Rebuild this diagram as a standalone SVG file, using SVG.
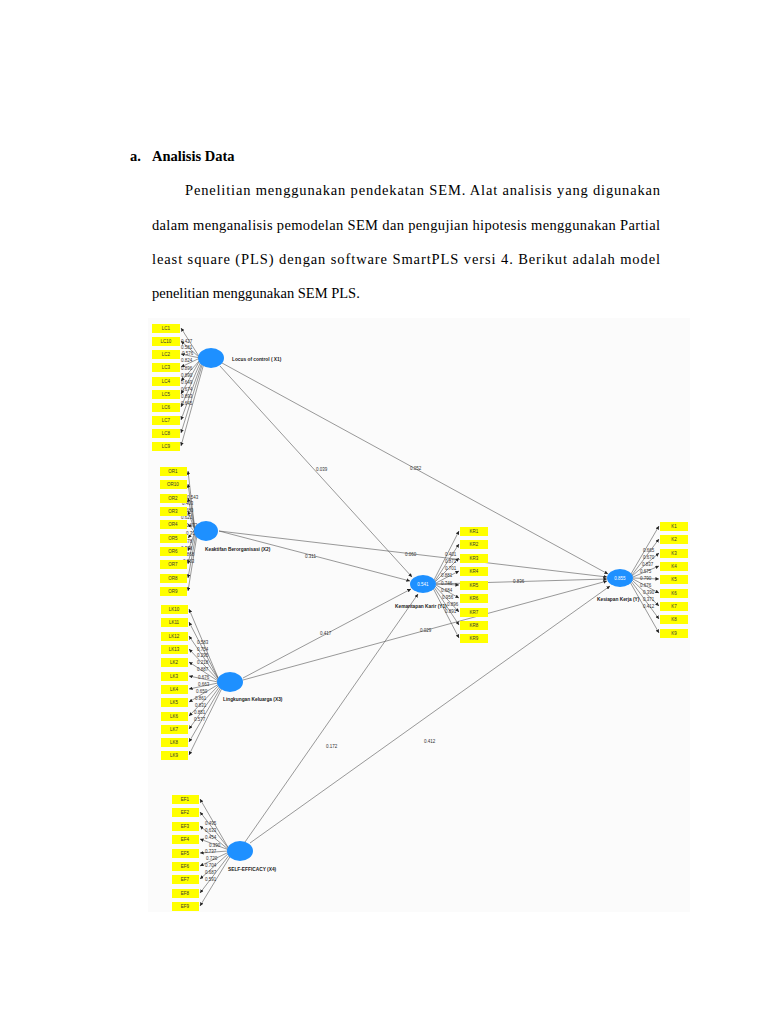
<svg xmlns="http://www.w3.org/2000/svg" width="768" height="1024" viewBox="0 0 768 1024">
<style>
.p{font-family:"Liberation Serif",serif;font-size:14.5px;fill:#000}
.h{font-family:"Liberation Serif",serif;font-size:14.5px;font-weight:bold}
.ind rect{fill:#ffff00}
.t{font-family:"Liberation Sans",sans-serif;font-size:4.5px;fill:#333}
.lab{font-family:"Liberation Sans",sans-serif;font-size:4.8px;font-weight:bold;fill:#222}
.lv{fill:#1e90ff}
.c line{stroke:#555;stroke-width:0.6;marker-end:url(#a)}
.w{font-family:"Liberation Sans",sans-serif;font-size:4.5px;fill:#fff;text-anchor:middle}
</style>
<defs><marker id="a" viewBox="0 0 10 10" refX="10" refY="5" markerWidth="6" markerHeight="6" orient="auto"><path d="M0,0L10,5L0,10z" fill="#222"/></marker></defs>
<rect width="768" height="1024" fill="#fff"/>
<text class="h" x="130" y="161">a.</text><text class="h" x="152" y="161">Analisis Data</text>
<text class="p" x="185" y="195" textLength="475" lengthAdjust="spacing">Penelitian menggunakan pendekatan SEM. Alat analisis yang digunakan</text>
<text class="p" x="152" y="230" textLength="508" lengthAdjust="spacing">dalam menganalisis pemodelan SEM dan pengujian hipotesis menggunakan Partial</text>
<text class="p" x="152" y="264" textLength="508" lengthAdjust="spacing">least square (PLS) dengan software SmartPLS versi 4. Berikut adalah model</text>
<text class="p" x="152" y="298">penelitian menggunakan SEM PLS.</text>
<rect x="148" y="318" width="542" height="594" fill="#fbfbfb"/>
<g id="connectors" class="c">
<line x1="220" y1="366" x2="412" y2="577"/><line x1="222" y1="363" x2="608" y2="574"/>
<line x1="219" y1="531" x2="410" y2="581"/><line x1="219" y1="531" x2="607" y2="577"/>
<line x1="243" y1="678" x2="411" y2="589"/><line x1="243" y1="680" x2="607" y2="581"/>
<line x1="245" y1="842" x2="418" y2="594"/><line x1="250" y1="843" x2="610" y2="586"/>
<line x1="436" y1="584" x2="607" y2="579"/>
<g id="lc-load"><line x1="200" y1="358" x2="181" y2="328"/><line x1="200" y1="358" x2="181" y2="341"/><line x1="200" y1="358" x2="181" y2="354"/><line x1="200" y1="358" x2="181" y2="367"/><line x1="200" y1="360" x2="181" y2="381"/><line x1="200" y1="360" x2="181" y2="394"/><line x1="201" y1="361" x2="181" y2="407"/><line x1="202" y1="362" x2="181" y2="420"/><line x1="203" y1="362" x2="181" y2="433"/><line x1="204" y1="363" x2="181" y2="446"/></g>
<g><line x1="195" y1="531" x2="188" y2="471"/><line x1="195" y1="531" x2="188" y2="484"/><line x1="195" y1="531" x2="188" y2="498"/><line x1="195" y1="531" x2="188" y2="511"/><line x1="194" y1="531" x2="188" y2="524"/><line x1="194" y1="531" x2="188" y2="538"/><line x1="195" y1="532" x2="188" y2="551"/><line x1="195" y1="533" x2="188" y2="564"/><line x1="196" y1="534" x2="188" y2="578"/><line x1="197" y1="535" x2="188" y2="591"/></g>
<g><line x1="219" y1="680" x2="189" y2="609"/><line x1="219" y1="680" x2="189" y2="622"/><line x1="219" y1="680" x2="189" y2="636"/><line x1="219" y1="681" x2="189" y2="649"/><line x1="218" y1="681" x2="189" y2="662"/><line x1="218" y1="682" x2="189" y2="676"/><line x1="218" y1="683" x2="189" y2="689"/><line x1="219" y1="684" x2="189" y2="702"/><line x1="219" y1="685" x2="189" y2="716"/><line x1="220" y1="686" x2="189" y2="729"/><line x1="221" y1="687" x2="189" y2="742"/><line x1="222" y1="688" x2="189" y2="755"/></g>
<g><line x1="229" y1="849" x2="200" y2="799"/><line x1="229" y1="849" x2="200" y2="812"/><line x1="229" y1="850" x2="200" y2="826"/><line x1="229" y1="850" x2="200" y2="839"/><line x1="228" y1="851" x2="200" y2="853"/><line x1="229" y1="852" x2="200" y2="866"/><line x1="229" y1="853" x2="200" y2="879"/><line x1="230" y1="854" x2="200" y2="893"/><line x1="231" y1="855" x2="200" y2="906"/></g>
<g><line x1="434" y1="580" x2="459" y2="531"/><line x1="435" y1="581" x2="459" y2="544"/><line x1="435" y1="582" x2="459" y2="558"/><line x1="436" y1="583" x2="459" y2="571"/><line x1="436" y1="584" x2="459" y2="585"/><line x1="436" y1="585" x2="459" y2="598"/><line x1="435" y1="586" x2="459" y2="612"/><line x1="434" y1="587" x2="459" y2="625"/><line x1="433" y1="588" x2="459" y2="638"/></g>
<g><line x1="631" y1="574" x2="659" y2="526"/><line x1="632" y1="575" x2="659" y2="539"/><line x1="632" y1="576" x2="659" y2="553"/><line x1="633" y1="577" x2="659" y2="566"/><line x1="633" y1="578" x2="659" y2="579"/><line x1="633" y1="579" x2="659" y2="593"/><line x1="632" y1="580" x2="659" y2="606"/><line x1="631" y1="581" x2="659" y2="619"/><line x1="630" y1="582" x2="659" y2="633"/></g>
</g>
<g class="t">
<text x="316" y="471">0.039</text><text x="410" y="470">0.052</text><text x="305" y="558">0.311</text><text x="405" y="556">0.060</text><text x="320" y="635">0.417</text><text x="420" y="632">0.029</text><text x="326" y="748">0.172</text><text x="424" y="743">0.412</text><text x="513" y="583">0.836</text>
<text x="181" y="343">0.427</text><text x="181" y="349">0.581</text><text x="182" y="355">0.576</text><text x="181" y="362">0.824</text><text x="181" y="370">0.896</text><text x="181" y="377">0.890</text><text x="181" y="384">0.649</text><text x="181" y="391">0.674</text><text x="181" y="398">0.893</text><text x="181" y="405">0.645</text>
<text x="187" y="499">0.543</text><text x="182" y="505">0.403</text><text x="182" y="512">0.680</text><text x="181" y="519">0.621</text><text x="186" y="527">0.673</text><text x="186" y="535">0.718</text><text x="181" y="543">0.678</text><text x="181" y="550">0.378</text><text x="183" y="556">0.868</text><text x="183" y="563">0.863</text>
<text x="197" y="644">0.583</text><text x="197" y="651">0.754</text><text x="197" y="657">0.295</text><text x="197" y="664">0.218</text><text x="197" y="671">0.887</text><text x="198" y="679">0.676</text><text x="198" y="686">0.663</text><text x="196" y="693">0.650</text><text x="195" y="700">0.861</text><text x="195" y="707">0.831</text><text x="194" y="714">0.851</text><text x="194" y="721">0.577</text>
<text x="205" y="825">0.495</text><text x="205" y="832">0.633</text><text x="205" y="839">0.454</text><text x="209" y="847">0.390</text><text x="205" y="853">0.737</text><text x="206" y="860">0.720</text><text x="205" y="867">0.704</text><text x="205" y="874">0.687</text><text x="205" y="881">0.591</text>
<text x="445" y="556">0.401</text><text x="445" y="563">0.871</text><text x="445" y="570">0.701</text><text x="441" y="577">0.881</text><text x="441" y="585">0.746</text><text x="441" y="592">0.684</text><text x="442" y="599">0.956</text><text x="447" y="606">0.896</text><text x="445" y="613">0.891</text>
<text x="643" y="552">0.665</text><text x="643" y="559">0.670</text><text x="642" y="566">0.837</text><text x="640" y="573">0.675</text><text x="640" y="580">0.790</text><text x="640" y="587">0.676</text><text x="643" y="594">0.390</text><text x="643" y="601">0.371</text><text x="643" y="608">0.412</text>
</g>
<g id="X1"><ellipse class="lv" cx="211" cy="358" rx="13" ry="10"/><text class="lab" x="232" y="361">Locus of control ( X1)</text></g>
<g id="X2"><ellipse class="lv" cx="206" cy="531" rx="12" ry="10"/><text class="lab" x="205" y="551">Keaktifan Berorganisasi (X2)</text></g>
<g id="X3"><ellipse class="lv" cx="230" cy="682" rx="13" ry="10"/><text class="lab" x="223" y="701">Lingkungan Keluarga (X3)</text></g>
<g id="X4"><ellipse class="lv" cx="240" cy="851" rx="13" ry="10"/><text class="lab" x="228" y="871">SELF-EFFICACY (X4)</text></g>
<g id="Y1"><ellipse class="lv" cx="423" cy="584" rx="13" ry="9"/><text class="w" x="423" y="586">0.541</text><text class="lab" x="395" y="608">Kemantapan Karir (Y1)</text></g>
<g id="Y"><ellipse class="lv" cx="620" cy="578" rx="13" ry="9"/><text class="w" x="620" y="580">0.855</text><text class="lab" x="597" y="601">Kesiapan Kerja (Y)</text></g>
<g class="ind t" text-anchor="middle">
<g id="LC"><rect x="152" y="324" width="28" height="9"/><text x="166" y="330">LC1</text><rect x="152" y="337" width="28" height="9"/><text x="166" y="343">LC10</text><rect x="152" y="350" width="28" height="9"/><text x="166" y="356">LC2</text><rect x="152" y="363" width="28" height="9"/><text x="166" y="369">LC3</text><rect x="152" y="377" width="28" height="9"/><text x="166" y="383">LC4</text><rect x="152" y="390" width="28" height="9"/><text x="166" y="396">LC5</text><rect x="152" y="403" width="28" height="9"/><text x="166" y="409">LC6</text><rect x="152" y="416" width="28" height="9"/><text x="166" y="422">LC7</text><rect x="152" y="429" width="28" height="9"/><text x="166" y="435">LC8</text><rect x="152" y="442" width="28" height="9"/><text x="166" y="448">LC9</text></g>
<g id="OR"><rect x="160" y="467" width="27" height="9"/><text x="173" y="473">OR1</text><rect x="160" y="480" width="27" height="9"/><text x="173" y="486">OR10</text><rect x="160" y="494" width="27" height="9"/><text x="173" y="500">OR2</text><rect x="160" y="507" width="27" height="9"/><text x="173" y="513">OR3</text><rect x="160" y="520" width="27" height="9"/><text x="173" y="526">OR4</text><rect x="160" y="534" width="27" height="9"/><text x="173" y="540">OR5</text><rect x="160" y="547" width="27" height="9"/><text x="173" y="553">OR6</text><rect x="160" y="560" width="27" height="9"/><text x="173" y="566">OR7</text><rect x="160" y="574" width="27" height="9"/><text x="173" y="580">OR8</text><rect x="160" y="587" width="27" height="9"/><text x="173" y="593">OR9</text></g>
<g id="LK"><rect x="161" y="605" width="27" height="9"/><text x="174" y="611">LK10</text><rect x="161" y="618" width="27" height="9"/><text x="174" y="624">LK11</text><rect x="161" y="632" width="27" height="9"/><text x="174" y="638">LK12</text><rect x="161" y="645" width="27" height="9"/><text x="174" y="651">LK13</text><rect x="161" y="658" width="27" height="9"/><text x="174" y="664">LK2</text><rect x="161" y="672" width="27" height="9"/><text x="174" y="678">LK3</text><rect x="161" y="685" width="27" height="9"/><text x="174" y="691">LK4</text><rect x="161" y="698" width="27" height="9"/><text x="174" y="704">LK5</text><rect x="161" y="712" width="27" height="9"/><text x="174" y="718">LK6</text><rect x="161" y="725" width="27" height="9"/><text x="174" y="731">LK7</text><rect x="161" y="738" width="27" height="9"/><text x="174" y="744">LK8</text><rect x="161" y="751" width="27" height="9"/><text x="174" y="757">LK9</text></g>
<g id="EF"><rect x="172" y="795" width="27" height="9"/><text x="185" y="801">EF1</text><rect x="172" y="808" width="27" height="9"/><text x="185" y="814">EF2</text><rect x="172" y="822" width="27" height="9"/><text x="185" y="828">EF3</text><rect x="172" y="835" width="27" height="9"/><text x="185" y="841">EF4</text><rect x="172" y="849" width="27" height="9"/><text x="185" y="855">EF5</text><rect x="172" y="862" width="27" height="9"/><text x="185" y="868">EF6</text><rect x="172" y="875" width="27" height="9"/><text x="185" y="881">EF7</text><rect x="172" y="889" width="27" height="9"/><text x="185" y="895">EF8</text><rect x="172" y="902" width="27" height="9"/><text x="185" y="908">EF9</text></g>
<g id="KR"><rect x="460" y="527" width="28" height="9"/><text x="474" y="533">KR1</text><rect x="460" y="540" width="28" height="9"/><text x="474" y="546">KR2</text><rect x="460" y="554" width="28" height="9"/><text x="474" y="560">KR3</text><rect x="460" y="567" width="28" height="9"/><text x="474" y="573">KR4</text><rect x="460" y="581" width="28" height="9"/><text x="474" y="587">KR5</text><rect x="460" y="594" width="28" height="9"/><text x="474" y="600">KR6</text><rect x="460" y="608" width="28" height="9"/><text x="474" y="614">KR7</text><rect x="460" y="621" width="28" height="9"/><text x="474" y="627">KR8</text><rect x="460" y="634" width="28" height="9"/><text x="474" y="640">KR9</text></g>
<g id="K"><rect x="660" y="522" width="28" height="9"/><text x="674" y="528">K1</text><rect x="660" y="535" width="28" height="9"/><text x="674" y="541">K2</text><rect x="660" y="549" width="28" height="9"/><text x="674" y="555">K3</text><rect x="660" y="562" width="28" height="9"/><text x="674" y="568">K4</text><rect x="660" y="575" width="28" height="9"/><text x="674" y="581">K5</text><rect x="660" y="589" width="28" height="9"/><text x="674" y="595">K6</text><rect x="660" y="602" width="28" height="9"/><text x="674" y="608">K7</text><rect x="660" y="615" width="28" height="9"/><text x="674" y="621">K8</text><rect x="660" y="629" width="28" height="9"/><text x="674" y="635">K9</text></g>
</g>
</svg>
